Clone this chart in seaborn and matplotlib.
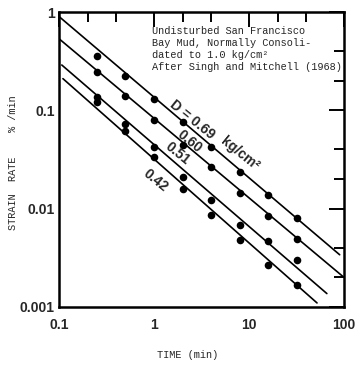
import numpy as np
import pandas as pd
import matplotlib
matplotlib.use("Agg")
import matplotlib.pyplot as plt
from matplotlib.ticker import FixedLocator, NullFormatter
import seaborn as sns

# Elapsed time after load (min), sampled by doubling
times = [0.25, 0.5, 1, 2, 4, 8, 16, 32]

# Deviator stress levels D (kg/cm^2)
stress_labels = ["0.69", "0.60", "0.51", "0.42"]

# Measured strain rates (%/min) for each stress level
rate_069 = [0.361, 0.226, 0.131, 0.0756, 0.0423, 0.0237, 0.0138, 0.00798]
rate_060 = [0.243, 0.141, 0.0792, 0.0443, 0.0266, 0.0145, 0.00835, 0.00497]
rate_051 = [0.138, 0.0723, 0.0423, 0.0210, 0.0123, 0.00681, 0.00464, 0.00302]
rate_042 = [0.122, 0.0614, 0.0335, 0.0159, 0.00854, 0.00485, 0.00270, 0.00168]

# Straight-line trends on log-log axes (start and end points)
trend_t_start = [0.1, 0.1, 0.107, 0.11]
trend_r_start = [0.90, 0.535, 0.289, 0.21]
trend_t_end = [90, 100, 66, 52]
trend_r_end = [0.0034, 0.0020, 0.00137, 0.0011]

# Axis ticks
x_major = [0.1, 1, 10, 100]
x_major_labels = ["0.1", "1", "10", "100"]
y_major = [0.001, 0.01, 0.1, 1]
y_major_labels = ["0.001", "0.01", "0.1", "1"]

all_rates = [rate_069, rate_060, rate_051, rate_042]
df = pd.DataFrame({
    "time": times * len(stress_labels),
    "rate": sum(all_rates, []),
    "D": np.repeat(stress_labels, len(times)),
})

sns.set_style("white")
plt.rcParams["font.family"] = ["Liberation Sans", "DejaVu Sans"]

fig = plt.figure(figsize=(3.58, 3.66), dpi=100)
ax = fig.add_axes([59 / 358, 1 - 307 / 366, 285 / 358, 295 / 366])

for i in range(len(stress_labels)):
    sns.lineplot(x=[trend_t_start[i], trend_t_end[i]],
                 y=[trend_r_start[i], trend_r_end[i]],
                 color="black", lw=1.2, ax=ax, legend=False)

sns.scatterplot(data=df, x="time", y="rate", color="black", s=30,
                linewidth=0, ax=ax, legend=False, zorder=3)

ax.set_xscale("log")
ax.set_yscale("log")
ax.set_xlim(0.1, 100)
ax.set_ylim(0.001, 1)

ax.xaxis.set_major_locator(FixedLocator(x_major))
ax.set_xticklabels(x_major_labels)
ax.yaxis.set_major_locator(FixedLocator(y_major))
ax.set_yticklabels(y_major_labels)
ax.xaxis.set_minor_locator(FixedLocator([0.2, 0.4, 2, 4, 20, 40]))
ax.yaxis.set_minor_locator(FixedLocator([0.002, 0.004, 0.02, 0.04, 0.2, 0.4]))
ax.xaxis.set_minor_formatter(NullFormatter())
ax.yaxis.set_minor_formatter(NullFormatter())

ax.tick_params(which="both", direction="in", top=True, right=True,
               color="black", width=1.4)
ax.tick_params(which="major", length=11)
ax.tick_params(which="minor", length=7.5)
ax.tick_params(axis="x", which="major", pad=8, labelsize=10)
ax.tick_params(axis="y", which="major", pad=3, labelsize=10)
for lab in ax.get_xticklabels() + ax.get_yticklabels():
    lab.set_fontweight("bold")

for sp in ax.spines.values():
    sp.set_linewidth(1.8)
    sp.set_color("black")

ax.set_xlabel("")
ax.set_ylabel("")

mono = ["Liberation Mono", "DejaVu Sans Mono"]
ax.text(0.326, 0.952,
        "Undisturbed San Francisco\n"
        "Bay Mud, Normally Consoli-\n"
        "dated to 1.0 kg/cm²\n"
        "After Singh and Mitchell (1968)",
        transform=ax.transAxes, ha="left", va="top",
        family=mono, fontsize=7.4, linespacing=1.25)

# Stress labels written along the trend lines
angle = -39
label_kw = dict(rotation=angle, rotation_mode="anchor", ha="center",
                va="center", fontsize=10, fontweight="bold")
ax.text(2.51, 0.081, "D = 0.69", **label_kw)
ax.text(8.0, 0.036, "kg/cm²", **label_kw)
ax.text(2.39, 0.0486, "0.60", **label_kw)
ax.text(1.79, 0.036, "0.51", **label_kw)
ax.text(1.03, 0.0192, "0.42", **label_kw)

fig.text(13 / 358, 1 - 163 / 366, "STRAIN  RATE    % /min", rotation=90,
         ha="center", va="center", family=mono, fontsize=7.4)
fig.text(188 / 358, 1 - 355 / 366, "TIME (min)", ha="center", va="center",
         family=mono, fontsize=7.4)

fig.savefig("out.png", dpi=100)
